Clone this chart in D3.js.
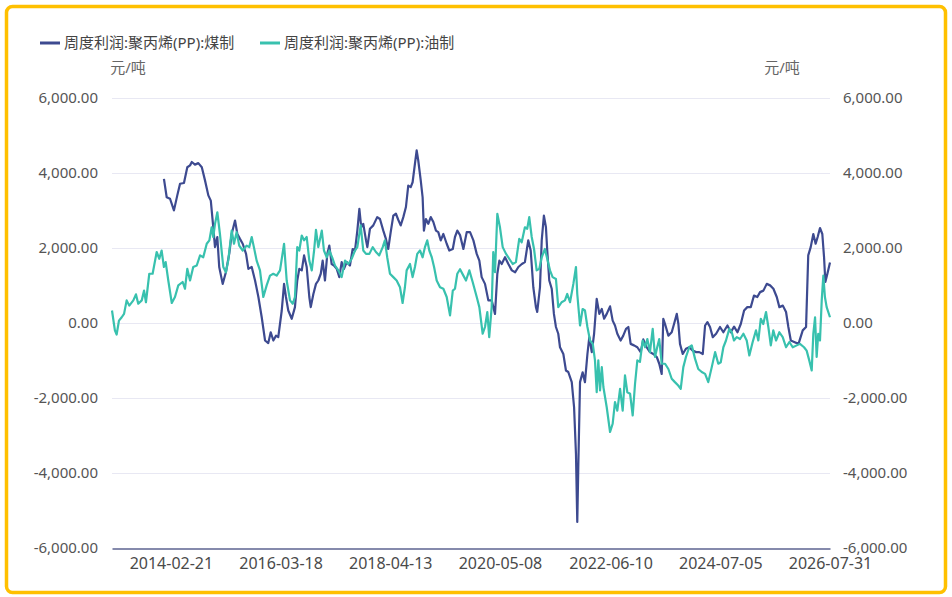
<!DOCTYPE html>
<html lang="zh-CN">
<head>
<meta charset="UTF-8">
<title>周度利润:聚丙烯(PP)</title>
<script src="https://cdn.jsdelivr.net/npm/d3@7"></script>
<style>
  body { margin: 0; background: #ffffff; }
  svg { display: block; font-family: "Noto Sans", "Noto Sans CJK SC", sans-serif; }
</style>
</head>
<body>
<div id="chart"></div>
<script>
// series names / colours
var seriesNames = ["周度利润:聚丙烯(PP):煤制", "周度利润:聚丙烯(PP):油制"];
var seriesColors = ["#3d4a90", "#38c1ae"];
var unitLabel = "元/吨";

// axis labels
var xTickLabels = ["2014-02-21", "2016-03-18", "2018-04-13", "2020-05-08", "2022-06-10", "2024-07-05", "2026-07-31"];
var yTickValues = [-6000, -4000, -2000, 0, 2000, 4000, 6000];
var xStart = "2013-01-11", xEnd = "2026-07-31";

// coal based PP
var coalDates = ["2014-01-04","2014-01-23","2014-02-15","2014-03-14","2014-04-06","2014-04-25","2014-05-22","2014-06-14","2014-07-03","2014-07-15","2014-08-06","2014-08-29","2014-09-22","2014-10-14","2014-11-06","2014-11-23","2014-12-10","2014-12-22",
  "2015-01-07","2015-01-20","2015-02-13","2015-03-07","2015-03-30","2015-04-16","2015-05-09","2015-05-25","2015-06-12","2015-07-01","2015-07-24","2015-08-09","2015-09-01","2015-09-24","2015-10-17","2015-11-09","2015-12-02","2015-12-24",
  "2016-01-10","2016-01-28","2016-02-16","2016-03-02","2016-03-26","2016-04-11","2016-04-24","2016-05-10","2016-06-03","2016-06-25","2016-07-11","2016-07-25","2016-08-11","2016-08-27","2016-09-14","2016-10-02","2016-10-12","2016-10-30","2016-11-17","2016-12-03","2016-12-20",
  "2017-01-02","2017-01-18","2017-02-03","2017-02-17","2017-03-05","2017-03-21","2017-04-09","2017-04-27","2017-05-13","2017-05-29","2017-06-17","2017-07-09","2017-07-28","2017-08-13","2017-08-29","2017-09-12","2017-09-25","2017-10-09","2017-10-28","2017-11-06","2017-11-24","2017-12-17",
  "2018-01-13","2018-02-01","2018-02-24","2018-03-14","2018-03-30","2018-04-16","2018-05-04","2018-05-22","2018-06-07","2018-06-24","2018-07-12","2018-07-30","2018-08-15","2018-09-01","2018-09-14","2018-09-30","2018-10-12","2018-10-23","2018-11-09","2018-11-22","2018-12-01","2018-12-15","2018-12-31",
  "2019-01-17","2019-02-04","2019-02-22","2019-03-10","2019-03-27","2019-04-14","2019-05-07","2019-05-25","2019-06-18","2019-07-03","2019-07-19","2019-08-07","2019-08-30","2019-09-22","2019-10-15","2019-11-07","2019-11-30","2019-12-18",
  "2020-01-03","2020-01-26","2020-02-18","2020-03-12","2020-04-04","2020-04-20","2020-05-04","2020-05-20","2020-06-12","2020-07-05","2020-07-29","2020-08-21","2020-09-12","2020-10-06","2020-10-27","2020-11-19","2020-12-06","2020-12-24",
  "2021-01-11","2021-01-20","2021-02-08","2021-02-20","2021-03-07","2021-03-21","2021-03-30","2021-04-13","2021-04-30","2021-05-15","2021-05-29","2021-06-14","2021-06-26","2021-07-19","2021-08-06","2021-08-22","2021-09-15","2021-10-01","2021-10-14","2021-10-23","2021-10-30","2021-11-11","2021-11-29","2021-12-15",
  "2022-01-01","2022-01-14","2022-01-31","2022-02-16","2022-03-06","2022-03-24","2022-04-10","2022-04-26","2022-05-14","2022-06-06","2022-06-24","2022-07-10","2022-07-26","2022-08-18","2022-09-05","2022-09-24","2022-10-10","2022-10-26","2022-11-18","2022-12-11",
  "2023-01-03","2023-01-21","2023-02-13","2023-03-08","2023-03-31","2023-04-24","2023-05-11","2023-05-28","2023-06-08","2023-06-20","2023-07-13","2023-08-05","2023-08-21","2023-09-09","2023-09-20","2023-10-01","2023-10-20","2023-11-11","2023-12-04","2023-12-28",
  "2024-01-20","2024-02-11","2024-03-06","2024-03-22","2024-04-07","2024-04-25","2024-05-14","2024-06-06","2024-07-03","2024-07-26","2024-08-23","2024-09-15","2024-10-08","2024-10-31","2024-11-23","2024-12-16",
  "2025-01-07","2025-01-31","2025-02-22","2025-03-17","2025-04-05","2025-04-28","2025-05-21","2025-06-13","2025-07-06","2025-07-29","2025-08-16","2025-09-09","2025-10-01","2025-10-17","2025-11-03","2025-11-26","2025-12-26",
  "2026-01-24","2026-02-16","2026-03-03","2026-03-20","2026-04-07","2026-04-23","2026-05-07","2026-05-23","2026-06-08","2026-06-20","2026-06-29","2026-07-13","2026-07-31"];
var coalValues = [3830,3340,3300,2990,3390,3700,3720,4140,4190,4280,4210,4250,4140,3790,3390,3250,2540,2010,
  2280,1480,1030,1340,1830,2360,2720,2360,2230,2100,1830,1430,1480,1120,680,140,-480,-550,
  -260,-480,-350,-390,320,1030,680,320,100,410,1120,1430,1390,1790,1480,680,410,760,1030,1120,1300,
  1650,1120,1830,2050,1560,1520,1430,1210,1610,1430,1610,1520,1960,1920,2450,3030,2540,2630,2190,2010,2500,2590,
  2810,2760,2450,2230,1960,2410,2850,2900,2740,2590,2810,3080,3650,3610,3740,4230,4590,4320,3790,3340,2450,2760,2630,
  2810,2680,2450,2410,2190,2360,2100,1920,1960,2280,2450,2330,1960,2410,2410,2190,1830,1650,
  1210,1030,590,590,230,1300,1650,1560,1740,1560,1390,1340,1480,1560,1610,2190,1920,940,
  410,280,940,2190,2850,2540,1920,1120,900,230,-120,-300,-660,-840,-1280,-1320,-1590,-2260,-3500,-5320,-3860,-1590,-1330,-1590,
  -840,-390,-790,-300,630,230,360,100,230,430,50,-80,-300,-480,-350,-170,-120,-570,-610,-660,
  -790,-450,-660,-790,-840,-920,-1100,-1370,100,-40,-350,-260,-40,230,-40,-570,-840,-700,-660,-750,
  -790,-790,-840,-80,10,-120,-390,-300,-120,-260,-80,-260,-110,-260,-40,320,
  410,410,720,680,810,850,1030,990,900,680,410,450,280,-120,-480,-520,-570,
  -210,-120,1790,2010,2360,2100,2280,2520,2360,1740,1080,1300,1600];

// oil based PP
var oilDates = ["2013-01-11","2013-01-31","2013-02-12","2013-02-28","2013-03-19","2013-04-04","2013-04-22","2013-05-10","2013-06-07","2013-06-25","2013-07-11","2013-08-04","2013-08-20","2013-09-02","2013-09-25","2013-10-18","2013-11-15","2013-12-03","2013-12-19",
  "2014-01-04","2014-01-16","2014-02-03","2014-02-27","2014-03-21","2014-04-13","2014-05-13","2014-05-29","2014-06-14","2014-07-03","2014-07-25","2014-08-18","2014-09-10","2014-10-02","2014-10-26","2014-11-13","2014-11-29","2014-12-10","2014-12-22",
  "2015-01-07","2015-01-25","2015-02-17","2015-03-07","2015-03-23","2015-04-16","2015-05-02","2015-05-20","2015-06-07","2015-07-01","2015-07-28","2015-08-15","2015-09-01","2015-09-16","2015-10-05","2015-10-28","2015-11-20","2015-12-13",
  "2016-01-05","2016-01-28","2016-02-20","2016-03-14","2016-04-11","2016-04-29","2016-05-22","2016-06-10","2016-06-25","2016-07-11","2016-07-25","2016-08-11","2016-08-27","2016-09-14","2016-10-02","2016-10-19","2016-11-04","2016-11-17","2016-12-03","2016-12-27",
  "2017-01-11","2017-01-30","2017-02-17","2017-03-12","2017-03-28","2017-04-20","2017-05-13","2017-06-05","2017-06-28","2017-07-21","2017-08-13","2017-08-29","2017-09-21","2017-10-09","2017-10-28","2017-11-20","2017-12-13",
  "2018-01-04","2018-01-27","2018-02-20","2018-03-07","2018-03-23","2018-04-11","2018-05-04","2018-05-27","2018-06-19","2018-07-07","2018-07-23","2018-08-04","2018-08-27","2018-09-14","2018-09-30","2018-10-16","2018-11-04","2018-11-22","2018-12-08","2018-12-24",
  "2019-01-07","2019-01-24","2019-02-09","2019-02-27","2019-03-22","2019-04-14","2019-05-07","2019-05-30","2019-06-18","2019-07-03","2019-07-19","2019-08-07","2019-08-30","2019-09-17","2019-10-10","2019-11-02","2019-11-30","2019-12-18",
  "2020-01-10","2020-01-26","2020-02-11","2020-02-24","2020-03-12","2020-03-23","2020-04-04","2020-04-20","2020-05-08","2020-05-27","2020-06-19","2020-07-11","2020-08-04","2020-08-26","2020-09-18","2020-10-05","2020-10-27","2020-11-12","2020-11-26","2020-12-13","2020-12-29",
  "2021-01-16","2021-02-03","2021-02-20","2021-03-14","2021-03-30","2021-04-18","2021-05-06","2021-05-29","2021-06-14","2021-07-07","2021-07-30","2021-08-15","2021-09-03","2021-09-26","2021-10-14","2021-10-23","2021-11-11","2021-11-29","2021-12-15",
  "2022-01-01","2022-01-19","2022-02-07","2022-02-22","2022-03-06","2022-03-17","2022-03-29","2022-04-10","2022-04-21","2022-05-14","2022-06-06","2022-06-24","2022-07-10","2022-07-26","2022-08-14","2022-09-01","2022-09-17","2022-10-03","2022-10-22","2022-11-09","2022-11-25","2022-12-11","2022-12-29",
  "2023-01-17","2023-02-02","2023-02-18","2023-03-08","2023-03-27","2023-04-12","2023-04-27","2023-05-11","2023-05-28","2023-06-20","2023-07-13","2023-08-05","2023-08-27","2023-09-19","2023-10-06","2023-10-24","2023-11-11","2023-12-04","2023-12-21",
  "2024-01-13","2024-02-04","2024-02-28","2024-03-22","2024-04-13","2024-05-07","2024-05-30","2024-06-21","2024-07-08","2024-07-26","2024-08-13","2024-09-05","2024-09-22","2024-10-07","2024-10-26","2024-11-18","2024-12-11",
  "2025-01-03","2025-01-21","2025-02-13","2025-03-08","2025-03-24","2025-04-10","2025-04-27","2025-05-16","2025-06-01","2025-06-18","2025-07-05","2025-07-24","2025-08-16","2025-09-08","2025-10-01","2025-10-24","2025-11-16","2025-12-14",
  "2026-01-05","2026-02-02","2026-02-20","2026-03-10","2026-03-27","2026-04-07","2026-04-19","2026-04-30","2026-05-11","2026-05-23","2026-06-04","2026-06-15","2026-06-26","2026-07-08","2026-07-31"];
var oilValues = [320,-210,-320,50,140,230,590,450,590,750,500,590,850,540,1300,1300,1880,1700,1920,
  1480,1610,1120,520,680,990,1080,900,1430,1120,1480,1520,1790,1740,2100,2190,2540,2280,2630,
  2940,2360,1480,1340,1650,2450,2100,2410,2050,1920,2050,2010,2280,2010,1650,1390,680,990,
  1250,1300,1250,1390,2100,1120,590,500,680,2010,1920,2320,2190,2280,1650,1390,1920,2470,2010,2450,
  1920,1740,1920,1700,1520,1390,1210,1650,1560,1700,1920,2010,2590,1920,1830,1830,2010,
  1880,1790,2010,2190,1740,1300,1210,1120,940,520,940,1390,1560,1210,1480,1830,1920,1740,2010,2190,
  1920,1740,1480,1120,940,900,680,190,850,900,1300,1420,1250,1120,1390,1080,680,410,
  -300,-120,280,-390,410,1880,1340,2900,2540,2010,1830,1700,1560,1610,2230,2140,2540,2500,2810,2280,1960,
  1390,1430,1740,1960,1700,1390,1210,1160,410,540,590,760,540,1030,1480,760,-80,360,320,
  -120,-480,-570,-1010,-1860,-1010,-1810,-1190,-1720,-2260,-2920,-2700,-2120,-2350,-1770,-2350,-1410,-1860,-1900,-2480,-1640,-1010,-1050,
  -480,-660,-440,-790,-170,-920,-660,-440,-1100,-1100,-1240,-1500,-1590,-1680,-1770,-1190,-920,-660,-610,
  -970,-1240,-1320,-1370,-1590,-1190,-790,-1100,-1060,-660,-480,-170,-260,-480,-390,-440,-300,
  -480,-880,-520,-210,-480,100,-40,280,-120,-610,-210,-480,-260,-390,-660,-520,-660,-610,
  -570,-660,-750,-1010,-1280,-300,140,-920,-300,-480,590,1250,680,410,140];

var W = 952, H = 597;
var plotLeft = 112, plotRight = 830, plotTop = 97.5, plotBottom = 547.5;

var parseDate = d3.utcParse("%Y-%m-%d");

var svg = d3.select("#chart")
    .append("svg")
        .attr("width", W)
        .attr("height", H)
        .style("background-color", "white");

// yellow frame
svg.append("rect")
    .attr("x", 6.5)
    .attr("y", 6.5)
    .attr("width", W - 13)
    .attr("height", H - 11)
    .attr("rx", 6)
    .attr("fill", "white")
    .attr("stroke", "#ffc000")
    .attr("stroke-width", 3.5);

//scales
var x = d3.scaleUtc()
    .domain([parseDate(xStart), parseDate(xEnd)])
    .range([plotLeft, plotRight]);

var y = d3.scaleLinear()
    .domain([-6000, 6000])
    .range([plotBottom, plotTop]);

// plain hyphen for negatives, like the original
var locale = d3.formatLocale({decimal: ".", thousands: ",", grouping: [3], currency: ["", ""], minus: "-"});
var fmt = locale.format(",.2f");

//grid
svg.append("g")
    .selectAll("line")
    .data(yTickValues.filter(function(d) { return d > -6000; }))
    .enter()
    .append("line")
        .attr("x1", plotLeft)
        .attr("x2", plotRight)
        .attr("y1", function(d) { return Math.round(y(d)) + 0.5; })
        .attr("y2", function(d) { return Math.round(y(d)) + 0.5; })
        .attr("stroke", "#e8e8f3")
        .attr("stroke-width", 1);

//left y axis
var yLeft = svg.append("g")
    .attr("transform", "translate(" + plotLeft + ",0)")
    .call(d3.axisLeft(y).tickValues(yTickValues).tickFormat(fmt).tickSize(0).tickPadding(14));
yLeft.select(".domain").remove();
yLeft.selectAll("text")
    .style("font-size", "15px")
    .style("font-family", "'Noto Sans', sans-serif")
    .attr("fill", "#555555");

//right y axis
var yRight = svg.append("g")
    .attr("transform", "translate(" + plotRight + ",0)")
    .call(d3.axisRight(y).tickValues(yTickValues).tickFormat(fmt).tickSize(0).tickPadding(13));
yRight.select(".domain").remove();
yRight.selectAll("text")
    .style("font-size", "15px")
    .style("font-family", "'Noto Sans', sans-serif")
    .attr("fill", "#555555");

//x axis
var xAxis = svg.append("g")
    .attr("transform", "translate(0," + (plotBottom + 1) + ")")
    .call(d3.axisBottom(x)
        .tickValues(xTickLabels.map(parseDate))
        .tickFormat(d3.utcFormat("%Y-%m-%d"))
        .tickSize(0)
        .tickSizeOuter(0)
        .tickPadding(9));
xAxis.select(".domain").attr("stroke", "#5c6391").attr("stroke-width", 1.3);
xAxis.selectAll("text")
    .style("font-size", "16px")
    .style("font-family", "'Noto Sans', sans-serif")
    .attr("fill", "#4a4a4a");

//units
svg.append("text")
    .attr("x", 128)
    .attr("y", 68)
    .attr("dy", "0.35em")
    .style("text-anchor", "middle")
    .style("font-size", "15px")
    .attr("fill", "#666666")
    .text(unitLabel);

svg.append("text")
    .attr("x", 782)
    .attr("y", 68)
    .attr("dy", "0.35em")
    .style("text-anchor", "middle")
    .style("font-size", "15px")
    .attr("fill", "#666666")
    .text(unitLabel);

//lines
var line = d3.line()
    .x(function(d) { return x(d.date); })
    .y(function(d) { return y(d.value); });

var coal = coalDates.map(function(d, i) { return {date: parseDate(d), value: coalValues[i]}; });
var oil = oilDates.map(function(d, i) { return {date: parseDate(d), value: oilValues[i]}; });

[coal, oil].forEach(function(series, i) {
    svg.append("path")
        .datum(series)
        .attr("d", line)
        .attr("fill", "none")
        .attr("stroke", seriesColors[i])
        .attr("stroke-width", 2.2)
        .attr("stroke-linejoin", "round");
});

//legend
var legendX = [40, 260];
var legend = svg.selectAll(".legend")
    .data(seriesNames)
    .enter()
    .append("g")
        .attr("class", "legend")
        .attr("transform", function(d, i) { return "translate(" + legendX[i] + ",43)"; });

legend.append("line")
    .attr("x1", 0)
    .attr("x2", 20)
    .attr("stroke", function(d, i) { return seriesColors[i]; })
    .attr("stroke-width", 3);

legend.append("text")
    .attr("x", 24)
    .attr("dy", "0.35em")
    .style("font-size", "15px")
    .attr("fill", "#444444")
    .text(function(d) { return d; });

</script>
</body>
</html>
